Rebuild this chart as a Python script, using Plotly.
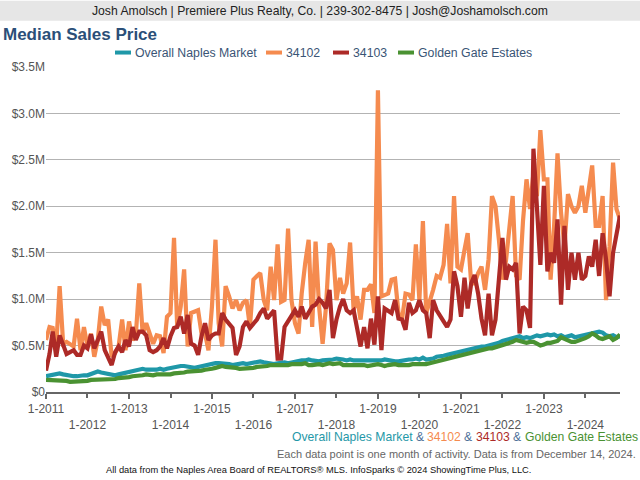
import pandas as pd
import plotly.graph_objects as go

months = pd.date_range("2011-01-01", "2024-11-01", freq="MS")

overall_naples = [
    0.17,0.18,0.18,0.19,0.20,0.19,0.18,0.17,0.17,0.17,0.18,0.18,
    0.18,0.19,0.21,0.22,0.21,0.20,0.20,0.19,0.18,0.19,0.20,0.21,
    0.21,0.22,0.24,0.25,0.25,0.24,0.24,0.23,0.24,0.25,0.24,0.25,
    0.26,0.27,0.27,0.28,0.28,0.27,0.27,0.26,0.27,0.28,0.28,0.29,
    0.30,0.31,0.31,0.31,0.30,0.30,0.29,0.30,0.31,0.31,0.30,0.31,
    0.32,0.32,0.33,0.32,0.31,0.31,0.30,0.31,0.32,0.32,0.31,0.32,
    0.33,0.33,0.34,0.34,0.35,0.34,0.33,0.33,0.34,0.34,0.35,0.35,
    0.36,0.36,0.35,0.34,0.35,0.34,0.34,0.33,0.34,0.34,0.34,0.33,
    0.34,0.34,0.35,0.34,0.34,0.33,0.33,0.34,0.34,0.35,0.35,0.36,
    0.35,0.37,0.35,0.35,0.36,0.38,0.38,0.39,0.40,0.41,0.41,0.42,
    0.43,0.44,0.45,0.46,0.47,0.48,0.49,0.49,0.50,0.50,0.52,0.53,
    0.55,0.56,0.57,0.59,0.60,0.60,0.58,0.59,0.58,0.60,0.61,0.60,
    0.61,0.62,0.61,0.62,0.60,0.61,0.59,0.60,0.61,0.59,0.60,0.61,
    0.61,0.63,0.64,0.65,0.65,0.64,0.61,0.60,0.61,0.59,0.60,
]

zip_34102 = [
    0.56,0.70,0.69,0.49,1.14,0.52,0.54,0.52,0.49,0.79,
    0.45,0.70,0.49,0.63,0.38,0.56,0.92,0.72,0.78,0.38,
    0.42,0.49,0.78,0.45,0.76,0.56,0.60,1.17,0.63,0.74,
    0.63,0.52,0.61,0.60,0.42,0.81,0.85,1.66,0.70,0.92,
    1.32,0.49,0.85,0.87,0.88,0.63,0.63,0.45,0.92,1.64,
    0.74,0.49,1.14,1.03,0.90,0.99,0.88,0.96,0.99,0.70,
    1.21,1.25,1.28,0.99,0.88,1.35,0.99,1.59,0.97,0.99,
    1.76,0.99,0.74,0.63,1.06,1.39,1.64,0.70,1.62,0.92,
    0.52,0.92,1.60,1.53,0.99,1.23,
    1.06,1.17,1.61,0.88,1.03,0.78,1.10,1.10,1.16,0.85,
    3.25,1.03,1.05,1.06,1.21,1.22,0.85,0.78,1.06,1.05,
    0.99,1.59,0.99,1.84,0.85,0.96,1.10,1.25,1.23,1.37,
    1.81,1.17,2.11,1.35,1.32,1.53,1.71,1.17,1.17,1.28,
    1.35,1.10,1.43,2.11,2.00,1.64,1.21,1.41,1.71,2.11,
    1.25,1.21,1.84,2.29,1.97,2.36,2.11,2.82,2.29,2.29,
    1.21,1.79,2.57,1.93,1.57,2.13,2.00,1.93,2.00,2.22,
    1.93,2.22,2.44,1.79,1.79,2.11,0.99,1.57,2.47,1.97,
    1.86,
]

zip_34103 = [
    0.23,0.41,0.65,0.38,0.61,0.49,0.41,0.43,0.45,0.40,
    0.40,0.50,0.47,0.62,0.47,0.56,0.65,0.45,0.38,0.29,
    0.43,0.49,0.43,0.56,0.49,0.70,0.56,0.65,0.65,0.61,
    0.45,0.43,0.45,0.49,0.58,0.47,0.60,0.69,0.70,0.81,
    0.63,0.83,0.52,0.50,0.40,0.60,0.74,0.56,0.61,0.63,
    0.63,0.85,0.78,0.74,0.69,0.40,0.49,0.70,0.76,0.69,
    0.74,0.78,0.85,0.90,0.79,0.83,0.88,0.36,0.36,0.70,
    0.76,0.81,0.88,0.81,0.92,0.79,0.85,0.92,0.94,1.00,
    0.96,0.90,1.10,0.58,0.78,0.92,
    1.00,0.88,0.85,0.88,0.69,0.49,0.70,0.47,0.79,0.51,
    1.03,0.45,0.90,0.88,0.85,0.99,0.79,0.78,0.67,0.96,
    0.85,0.88,0.99,0.88,0.85,0.58,0.99,0.88,0.81,0.76,
    0.70,0.78,1.30,1.14,0.81,1.23,0.90,1.17,1.26,1.06,
    0.79,0.61,1.06,0.61,0.78,1.28,1.66,1.21,1.35,1.32,
    1.39,0.63,0.92,0.88,0.69,2.62,2.00,1.37,2.22,1.30,
    1.50,1.39,1.86,0.94,1.79,1.10,1.50,1.21,1.50,1.21,
    1.25,1.46,1.35,1.64,1.25,1.71,1.43,1.03,1.50,1.71,
    1.90,
]

golden_gate = [
    0.13,0.13,0.12,0.12,0.13,0.12,0.12,0.11,0.11,0.12,0.12,0.12,
    0.12,0.13,0.13,0.13,0.14,0.14,0.14,0.13,0.14,0.15,0.15,0.16,
    0.16,0.17,0.17,0.18,0.18,0.19,0.18,0.18,0.19,0.19,0.18,0.19,
    0.19,0.20,0.20,0.21,0.21,0.22,0.22,0.22,0.23,0.23,0.24,0.24,
    0.25,0.26,0.27,0.28,0.27,0.27,0.26,0.26,0.25,0.25,0.26,0.26,
    0.26,0.27,0.27,0.28,0.28,0.29,0.29,0.28,0.28,0.29,0.29,0.30,
    0.30,0.29,0.30,0.31,0.29,0.29,0.30,0.30,0.29,0.30,0.31,0.30,
    0.30,0.31,0.29,0.29,0.30,0.29,0.29,0.30,0.29,0.28,0.29,0.29,
    0.30,0.29,0.28,0.29,0.30,0.30,0.29,0.29,0.28,0.29,0.30,0.30,
    0.29,0.30,0.30,0.31,0.32,0.33,0.34,0.35,0.36,0.37,0.38,0.39,
    0.40,0.41,0.42,0.43,0.44,0.45,0.45,0.46,0.47,0.47,0.48,0.49,
    0.50,0.51,0.52,0.54,0.56,0.55,0.54,0.53,0.54,0.54,0.52,0.50,
    0.51,0.53,0.53,0.54,0.55,0.59,0.57,0.55,0.54,0.54,0.55,0.56,
    0.58,0.60,0.63,0.61,0.58,0.57,0.59,0.60,0.56,0.58,0.62,
]

series_names = ["Overall Naples Market", "34102", "34103", "Golden Gate Estates"]
series_values = [overall_naples, zip_34102, zip_34103, golden_gate]
series_colors = ["#1f98a8", "#f58b4f", "#ad2a27", "#4a9232"]
draw_order = [1, 2, 0, 3]

y_tick_vals = [0, 0.5, 1.0, 1.5, 2.0, 2.5, 3.0, 3.5]
y_tick_text = ["$0", "$0.5M", "$1.0M", "$1.5M", "$2.0M", "$2.5M", "$3.0M", "$3.5M"]
tick_years = list(range(2011, 2025))
x_tick_vals_odd = [f"{y}-01-01" for y in tick_years[0::2]]
x_tick_text_odd = [f"1-{y}" for y in tick_years[0::2]]
x_tick_vals_even = [f"{y}-01-01" for y in tick_years[1::2]]
x_tick_text_even = [f"1-{y}" for y in tick_years[1::2]]
x_range = ["2011-01-01", "2024-11-01"]

W, H = 640, 480
L, R, T, B = 46, 20, 66.5, 87.5
PW, PH = W - L - R, H - T - B
FONT = "Liberation Sans, Arial, sans-serif"


def px(xp):
    return (xp - L) / PW


def py(yp):
    return (H - B - yp) / PH


fig = go.Figure()
for i in draw_order:
    fig.add_trace(go.Scatter(
        x=months, y=series_values[i], name=series_names[i], mode="lines",
        line=dict(color=series_colors[i], width=4.2), showlegend=False,
    ))

shapes = [
    dict(type="rect", xref="paper", yref="paper", x0=px(0), x1=px(W), y0=py(0), y1=py(20),
         fillcolor="#e6e6e6", line_width=0, layer="below"),
]
annotations = [
    dict(text="Josh Amolsch | Premiere Plus Realty, Co. | 239-302-8475 | Josh@Joshamolsch.com",
         xref="paper", yref="paper", x=px(320), y=py(10), xanchor="center", yanchor="middle",
         showarrow=False, font=dict(family=FONT, size=12.2, color="#222222")),
    dict(text="<b>Median Sales Price</b>", xref="paper", yref="paper", x=px(1), y=py(34),
         xanchor="left", yanchor="middle", showarrow=False,
         font=dict(family=FONT, size=17, color="#2b4f78")),
]

# legend (manual)
leg_x = [115, 266, 333, 398]
for i, xs in enumerate(leg_x):
    shapes.append(dict(type="line", xref="paper", yref="paper", x0=px(xs), x1=px(xs + 16),
                       y0=py(52), y1=py(52), line=dict(color=series_colors[i], width=4)))
    annotations.append(dict(text=series_names[i], xref="paper", yref="paper", x=px(xs + 18),
                            y=py(52), xanchor="left", yanchor="middle", showarrow=False,
                            font=dict(family=FONT, size=12.3, color="#3a5576")))

# colored footer line, split into pieces
footer_pieces = [
    (series_names[0], series_colors[0], 290.5),
    ("&", "#4d6f99", 414.6),
    (series_names[1], series_colors[1], 426.1),
    ("&", "#4d6f99", 463.4),
    (series_names[2], series_colors[2], 474.9),
    ("&", "#4d6f99", 512.2),
    (series_names[3], series_colors[3], 523.7),
]
for text, color, xs in footer_pieces:
    annotations.append(dict(text=text, xref="paper", yref="paper", x=px(xs), y=py(437.5),
                            xanchor="left", yanchor="middle", showarrow=False, borderpad=0,
                            font=dict(family=FONT, size=12.2, color=color)))

annotations += [
    dict(text="Each data point is one month of activity. Data is from December 14, 2024.",
         xref="paper", yref="paper", x=px(638), y=py(455), xanchor="right", yanchor="middle",
         showarrow=False, font=dict(family=FONT, size=11, color="#666666")),
    dict(text="All data from the Naples Area Board of REALTORS® MLS. InfoSparks © 2024 ShowingTime Plus, LLC.",
         xref="paper", yref="paper", x=px(318), y=py(471), xanchor="center", yanchor="middle",
         showarrow=False, font=dict(family=FONT, size=9.3, color="#111111")),
]

fig.update_layout(
    width=W, height=H, margin=dict(l=L, r=R, t=T, b=B, autoexpand=False),
    paper_bgcolor="white", plot_bgcolor="white",
    font=dict(family=FONT, size=12, color="#555555"),
    shapes=shapes, annotations=annotations, showlegend=False,
    xaxis=dict(
        type="date", range=x_range, tickvals=x_tick_vals_odd, ticktext=x_tick_text_odd,
        showgrid=False, showline=True, linecolor="#666666", linewidth=2,
        ticks="outside", ticklen=5, tickwidth=2, tickcolor="#666666",
        tickfont=dict(family=FONT, size=12, color="#555555"), zeroline=False,
    ),
    xaxis2=dict(
        type="date", range=x_range, overlaying="x", anchor="y", side="bottom",
        tickvals=x_tick_vals_even, ticktext=x_tick_text_even,
        showgrid=False, showline=False, ticks="outside", ticklen=5, tickwidth=2,
        tickcolor="#666666", ticklabelstandoff=17,
        tickfont=dict(family=FONT, size=12, color="#555555"), zeroline=False,
    ),
    yaxis=dict(
        range=[0, 3.5], tickvals=y_tick_vals, ticktext=y_tick_text,
        showgrid=True, gridcolor="#b3b3b3", gridwidth=1, zeroline=False, showline=False,
        ticks="", tickfont=dict(family=FONT, size=12, color="#555555"),
    ),
)
# invisible helper trace so the even-year axis is drawn
fig.add_trace(go.Scatter(x=[months[0]], y=[0], xaxis="x2", mode="markers",
                         marker=dict(opacity=0), showlegend=False, hoverinfo="skip"))

fig.write_html(
    "out.html",
    config={"displayModeBar": False},
    post_script="document.body.style.margin='0';document.body.style.padding='0';",
)
